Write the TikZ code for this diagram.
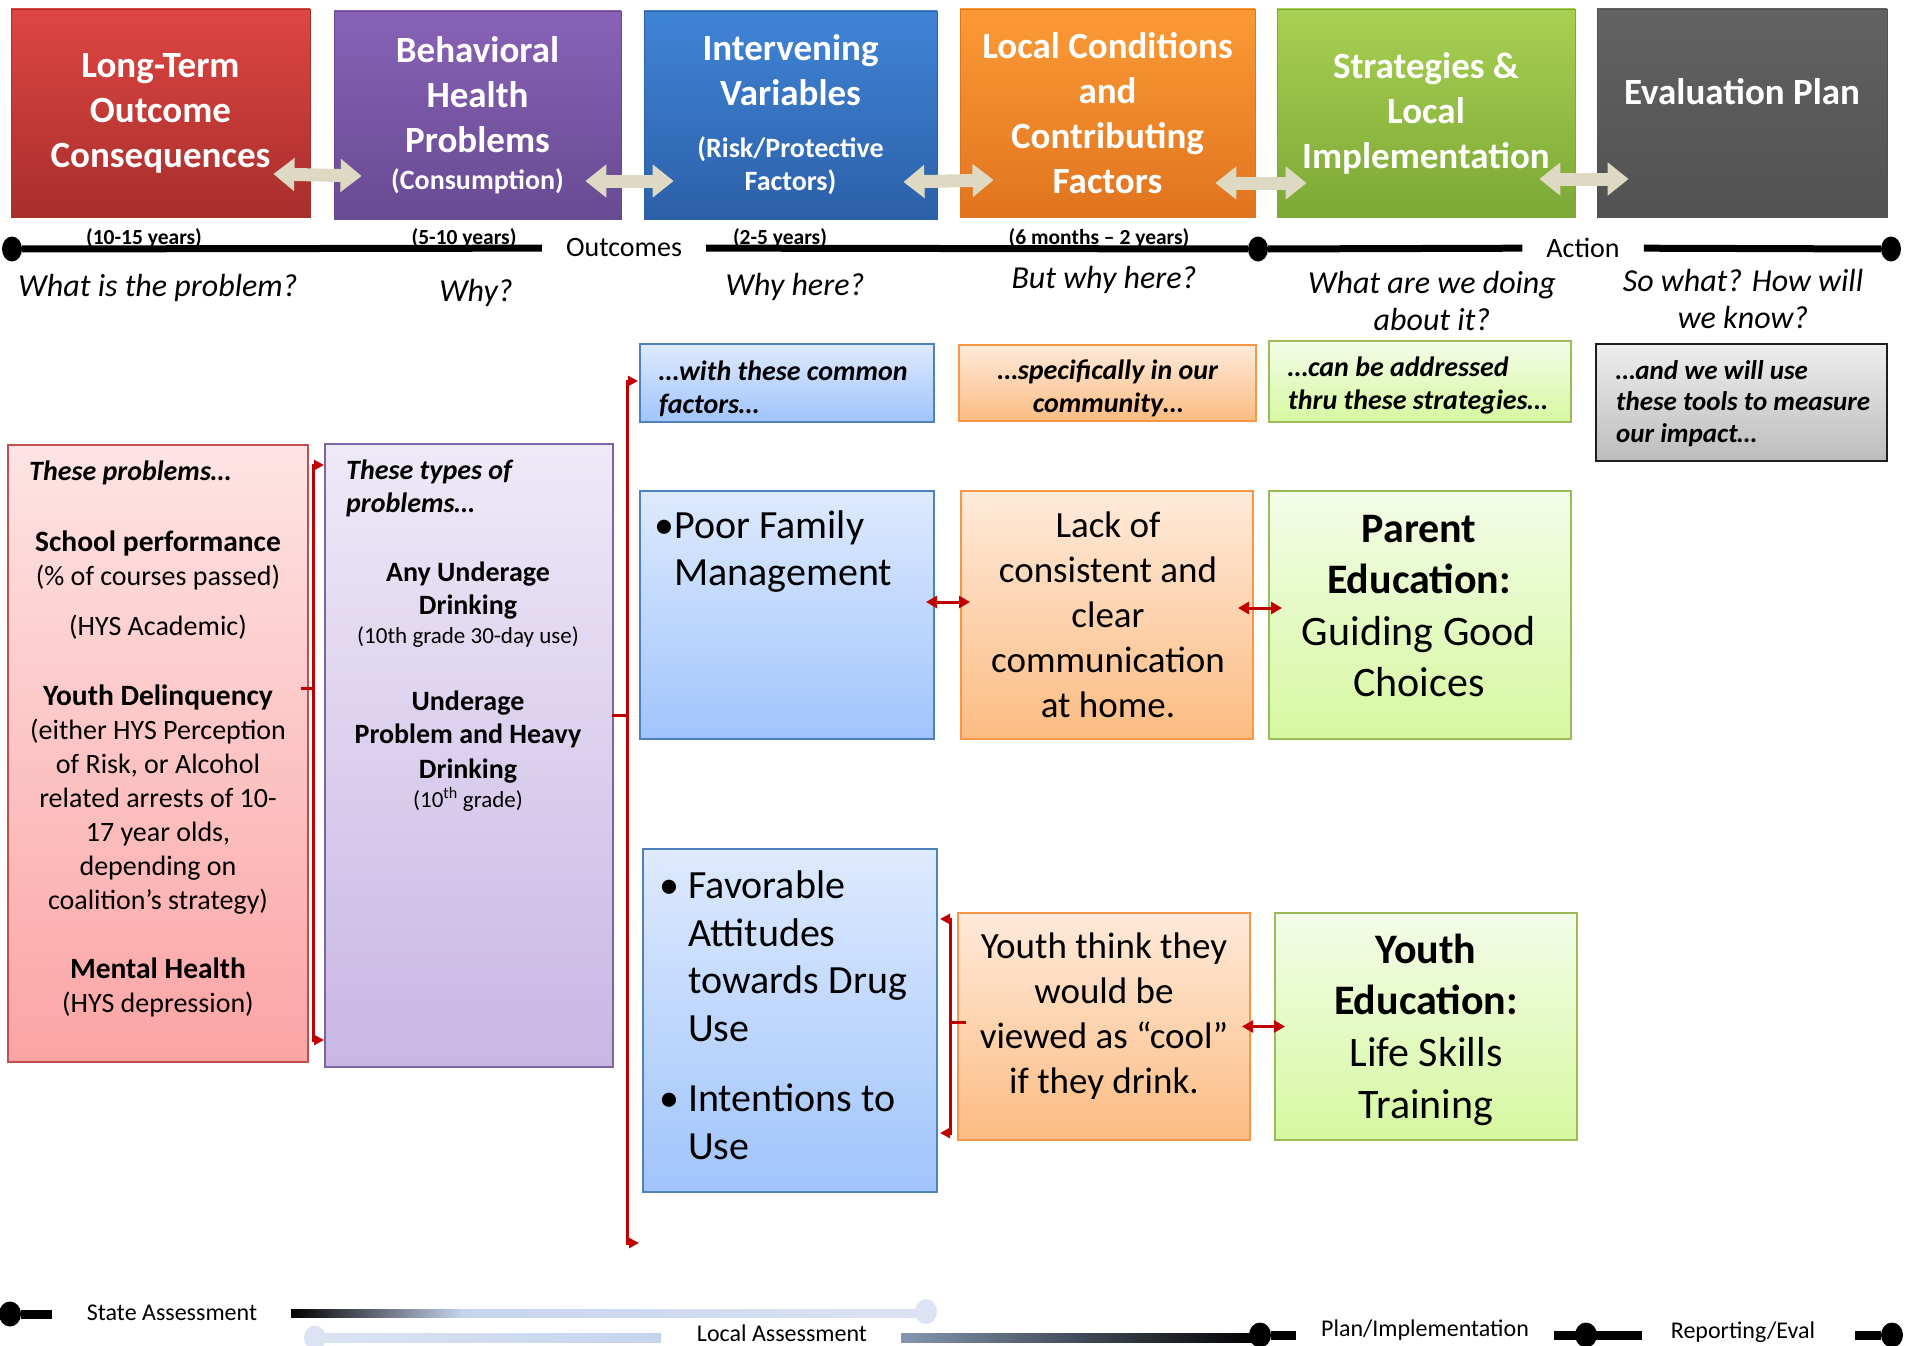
\documentclass[tikz,border=0pt]{standalone}
\usepackage{fontspec}
\setmainfont{Carlito}
\usetikzlibrary{arrows.meta,shapes.geometric}

\newcommand{\setfs}[2]{\fontsize{#1}{#2}\selectfont}

% header colours
\definecolor{hdrRedT}{RGB}{222,70,66}
\definecolor{hdrRedB}{RGB}{168,46,44}
\definecolor{hdrPurT}{RGB}{136,98,182}
\definecolor{hdrPurB}{RGB}{104,74,146}
\definecolor{hdrBluT}{RGB}{64,132,214}
\definecolor{hdrBluB}{RGB}{44,96,168}
\definecolor{hdrOraT}{RGB}{252,154,54}
\definecolor{hdrOraB}{RGB}{224,116,30}
\definecolor{hdrGrnT}{RGB}{168,208,82}
\definecolor{hdrGrnB}{RGB}{124,168,54}
\definecolor{hdrGryT}{RGB}{98,98,98}
\definecolor{hdrGryB}{RGB}{82,82,82}
\definecolor{beigeArrow}{RGB}{221,217,195}
\definecolor{darkRed}{RGB}{192,0,0}
% light box colours
\definecolor{pinkT}{RGB}{253,228,228}
\definecolor{pinkB}{RGB}{252,164,164}
\definecolor{pinkD}{RGB}{192,80,77}
\definecolor{lilacT}{RGB}{238,233,247}
\definecolor{lilacB}{RGB}{200,182,228}
\definecolor{lilacD}{RGB}{128,100,162}
\definecolor{skyT}{RGB}{222,234,253}
\definecolor{skyB}{RGB}{160,196,252}
\definecolor{skyD}{RGB}{79,129,189}
\definecolor{peachT}{RGB}{254,234,218}
\definecolor{peachB}{RGB}{252,188,130}
\definecolor{peachD}{RGB}{247,150,70}
\definecolor{limeT}{RGB}{243,252,232}
\definecolor{limeB}{RGB}{214,248,160}
\definecolor{limeD}{RGB}{155,187,89}
\definecolor{greyT}{RGB}{238,238,238}
\definecolor{greyB}{RGB}{188,188,188}
\definecolor{greyD}{RGB}{30,30,30}
% legend colours
\definecolor{lgBlue}{RGB}{197,211,237}
\definecolor{lgLight}{RGB}{220,228,243}
\definecolor{lgSteel}{RGB}{132,150,176}

\tikzset{
  hdrbox/.style n args={3}{rectangle, inner sep=0pt, minimum height=208pt, minimum width=#3,
    top color=#1, bottom color=#2, draw=#2, line width=0.8pt, text=white, align=center,
    font=\setfs{37}{45}\bfseries},
  litebox/.style n args={3}{rectangle, inner sep=0pt, top color=#1, bottom color=#2, draw=#3, line width=2pt},
  hdrarrow/.style={draw=beigeArrow, line width=13pt,
    {Triangle[length=21pt,width=32pt]}-{Triangle[length=21pt,width=32pt]}},
  redline/.style={draw=darkRed, line width=3pt},
  redtip/.style={-{Triangle[length=10pt,width=10pt]}},
  reddbl/.style={{Triangle[length=11pt,width=12pt]}-{Triangle[length=11pt,width=12pt]}},
  tdot/.style={ellipse, fill=black, inner sep=0pt, minimum width=20pt, minimum height=25pt},
  tline/.style={draw=black, line width=7pt},
  tword/.style={inner xsep=24pt, inner ysep=0pt, font=\setfs{28}{33}},
  years/.style={inner sep=0pt, font=\setfs{21.5}{25}\bfseries},
  ask/.style={inner sep=0pt, align=center, font=\setfs{32}{37}\itshape},
  lead/.style={inner sep=0pt, font=\setfs{28}{33}\bfseries\itshape},
  ldot/.style={ellipse, fill=#1, inner sep=0pt, minimum width=22pt, minimum height=25pt},
  lstub/.style={draw=black, line width=9pt},
  lword/.style={inner sep=0pt, font=\setfs{24}{28}},
}

\begin{document}
\begin{tikzpicture}[x=1pt,y=-1pt]
\useasboundingbox (0,0) rectangle (1906,1346);

%Shape: header boxes
\node[hdrbox={hdrRedT}{hdrRedB}{299pt}] (hdrRed) at (160.5,113) {Long-Term\\Outcome\\Consequences};
\node[hdrbox={hdrPurT}{hdrPurB}{287pt}] (hdrPur) at (477.5,115) {Behavioral\\Health\\Problems\\[-8pt]{\setfs{28}{34}(Consumption)}};
\node[hdrbox={hdrBluT}{hdrBluB}{293pt}] (hdrBlu) at (790.5,115) {Intervening\\Variables\\[7pt]{\setfs{28}{33}(Risk/Protective}\\[-12pt]{\setfs{28}{33}Factors)}};
\node[hdrbox={hdrOraT}{hdrOraB}{295pt}] (hdrOra) at (1107.5,113) {Local Conditions\\and\\Contributing\\Factors};
\node[hdrbox={hdrGrnT}{hdrGrnB}{298pt}] (hdrGrn) at (1426,113) {Strategies \&\\Local\\Implementation};
\node[hdrbox={hdrGryT}{hdrGryB}{290pt}] (hdrGry) at (1742,113) {};
% Text Node
\node[text=white, inner sep=0pt, font=\setfs{37}{45}\bfseries] (hdrGryText) at ([yshift=21pt]hdrGry.center) {Evaluation Plan};

%Shape: header double arrows
\draw[hdrarrow] ([xshift=-37pt,yshift=-61pt]hdrRed.east) -- ([xshift=28pt,yshift=-61pt]hdrPur.west);
\draw[hdrarrow] ([xshift=-36pt,yshift=-66pt]hdrPur.east) -- ([xshift=30pt,yshift=-66pt]hdrBlu.west);
\draw[hdrarrow] ([xshift=-34pt,yshift=-67pt]hdrBlu.east) -- ([xshift=34pt,yshift=-67pt]hdrOra.west);
\draw[hdrarrow] ([xshift=-40pt,yshift=-70pt]hdrOra.east) -- ([xshift=30pt,yshift=-70pt]hdrGrn.west);
\draw[hdrarrow] ([xshift=-36pt,yshift=-66pt]hdrGrn.east) -- ([xshift=32pt,yshift=-66pt]hdrGry.west);

%Shape: timeline
\node[tdot] (tl0) at (12,249) {};
\node[tword] (tlOut) at (624,248) {Outcomes};
\node[tdot] (tl1) at (1258,249) {};
\node[tword] (tlAct) at (1583,248) {Action};
\node[tdot] (tl2) at (1891,249) {};
\draw[tline] (tl0) -- (tlOut);
\draw[tline] (tlOut) -- (tl1);
\draw[tline] (tl1) -- (tlAct);
\draw[tline] (tlAct) -- (tl2);

% Text Node
\node[years] (yr1) at (144,238) {(10-15 years)};
\node[years] (yr2) at (464,238) {(5-10 years)};
\node[years] (yr3) at (780,238) {(2-5 years)};
\node[years] (yr4) at (1099,238) {(6 months – 2 years)};

% Text Node
\node[ask] (q1) at (158,288) {What is the problem?};
\node[ask] (q2) at (476,293) {Why?};
\node[ask] (q3) at (795,287) {Why here?};
\node[ask] (q4) at (1104,280) {But why here?};
\node[ask] (q5) at (1432,301.5) {What are we doing\\about it?};
\node[ask] (q6) at (1743,298.5) {So what? How will\\we know?};

%Shape: lead-in boxes
\node[litebox={skyT}{skyB}{skyD}, minimum width=294pt, minimum height=78pt] (lblFact) at (787,383) {};
\node[litebox={peachT}{peachB}{peachD}, minimum width=297pt, minimum height=76pt] (lblComm) at (1107.5,383) {};
\node[litebox={limeT}{limeB}{limeD}, minimum width=302pt, minimum height=81pt] (lblStrat) at (1420,381.5) {};
\node[litebox={greyT}{greyB}{greyD}, minimum width=291pt, minimum height=117pt] (lblTools) at (1741.5,402.5) {};
% Text Node
\node[lead, anchor=west, align=left] (lblFactText) at (659,388.5) {…with these common\\factors…};
\node[lead, align=center] (lblCommText) at (1108,388.5) {…specifically in our\\community…};
\node[lead, anchor=west, align=left] (lblStratText) at (1288,386) {…can be addressed\\thru these strategies…};
\node[lead, anchor=west, align=left, font=\setfs{27}{31.5}\bfseries\itshape] (lblToolsText) at (1616,403.5) {…and we will use\\these tools to measure\\our impact…};

%Shape: problem boxes
\node[litebox={pinkT}{pinkB}{pinkD}, minimum width=300pt, minimum height=617pt] (probBox) at (158,753.5) {};
\node[litebox={lilacT}{lilacB}{lilacD}, minimum width=288pt, minimum height=623pt] (typeBox) at (469,755.5) {};
% Text Node
\node[lead, anchor=west] (probHead) at (29,473) {These problems…};
\node[inner sep=0pt, align=center, font=\setfs{28}{34}] (probText) at (158,774) {{\setfs{29.5}{34}\bfseries School performance}\\
(\% of courses passed)\\[16pt]
(HYS Academic)\\[36pt]
{\setfs{29.5}{34}\bfseries Youth Delinquency}\\
(either HYS Perception\\
of Risk, or Alcohol\\
related arrests of 10-\\
17 year olds,\\
depending on\\
coalition’s strategy)\\[35pt]
{\setfs{29.5}{34}\bfseries Mental Health}\\
(HYS depression)};
% Text Node
\node[lead, anchor=west, align=left] (typeHead) at (346,488.5) {These types of\\problems…};
\node[inner sep=0pt, align=center, font=\setfs{28}{33}\bfseries] (typeText) at (468,687) {Any Underage\\
Drinking\\[-4pt]
{\setfs{23}{26}\mdseries (10th grade 30-day use)}\\[34pt]
Underage\\
Problem and Heavy\\[2pt]
Drinking\\[-4pt]
{\setfs{23}{26}\mdseries (10\textsuperscript{th} grade)}};

%Shape: factor, condition and strategy boxes
\node[litebox={skyT}{skyB}{skyD}, minimum width=294pt, minimum height=248pt] (famBox) at (787,615) {};
\node[litebox={peachT}{peachB}{peachD}, minimum width=292pt, minimum height=248pt] (commBox) at (1107,615) {};
\node[litebox={limeT}{limeB}{limeD}, minimum width=302pt, minimum height=248pt] (parentBox) at (1420,615) {};
\node[litebox={skyT}{skyB}{skyD}, minimum width=294pt, minimum height=343pt] (attBox) at (790,1020.5) {};
\node[litebox={peachT}{peachB}{peachD}, minimum width=292pt, minimum height=227pt] (coolBox) at (1104,1026.5) {};
\node[litebox={limeT}{limeB}{limeD}, minimum width=302pt, minimum height=227pt] (lifeBox) at (1426,1026.5) {};
% Text Node
\node[inner sep=0pt, anchor=west, align=left, font=\setfs{40}{47}] (famText) at (674,552) {\llap{•}Poor Family\\Management};
\node[inner sep=0pt, align=center, font=\setfs{37}{45}] (commText) at (1108,615) {Lack of\\consistent and\\clear\\communication\\at home.};
\node[inner sep=0pt, align=center, font=\setfs{42}{51.5}] (parentText) at (1419,606) {{\bfseries Parent}\\{\bfseries Education:}\\Guiding Good\\Choices};
\node[inner sep=0pt, anchor=west, align=left, font=\setfs{40}{47.8}] (attText) at (688,1015) {\llap{•\hspace{9pt}}Favorable\\Attitudes\\towards Drug\\Use\\[22pt]\llap{•\hspace{9pt}}Intentions to\\Use};
\node[inner sep=0pt, align=center, font=\setfs{37}{45}] (coolText) at (1104,1016.5) {Youth think they\\would be\\viewed as “cool”\\if they drink.};
\node[inner sep=0pt, align=center, font=\setfs{42}{51.7}] (lifeText) at (1426,1029.5) {{\bfseries Youth}\\{\bfseries Education:}\\Life Skills\\Training};

%Straight Lines: red brackets
\coordinate (brL) at (313,688);
\draw[redline] ([xshift=-8pt,yshift=65.5pt]probBox.east) -- (brL);
\draw[redline,redtip] (brL) |- ([yshift=290.5pt]typeBox.west);
\draw[redline,redtip] (brL) |- ([yshift=-284.5pt]typeBox.west);
\coordinate (brM) at (627,715);
\coordinate (brEnd) at (639,1243);
\draw[redline] ([xshift=-2pt,yshift=40.5pt]typeBox.east) -- (brM);
\draw[redline,redtip] (brM) |- ([xshift=-1pt,yshift=2pt]lblFact.west);
\draw[redline,redtip] (brM) |- (brEnd);
\coordinate (brC) at (950,1022);
\draw[redline] ([xshift=9pt,yshift=4.5pt]coolBox.west) -- (brC);
\draw[redline,redtip] (brC) |- ([xshift=2pt,yshift=101.5pt]attBox.east);
\draw[redline,redtip] (brC) |- ([xshift=2pt,yshift=-112.5pt]attBox.east);
%Straight Lines: red double arrows
\draw[redline,reddbl] ([xshift=-9pt,yshift=13pt]famBox.east) -- ([xshift=10pt,yshift=13pt]commBox.west);
\draw[redline,reddbl] ([xshift=-16pt,yshift=7pt]commBox.east) -- ([xshift=14pt,yshift=7pt]parentBox.west);
\draw[redline,reddbl] ([xshift=-9pt]coolBox.east) -- ([xshift=11pt]lifeBox.west);

%Shape: legend
\node[ldot=black] (lg0) at (10,1314) {};
\coordinate (lg0e) at (52,1314);
\draw[lstub] (lg0) -- (lg0e);
\node[lword] (lgState) at (172,1313) {State Assessment};
\shade[left color=black, right color=lgBlue] (291,1309) rectangle (462,1317);
\shade[left color=lgBlue, right color=lgLight] (460,1309) rectangle (926,1317);
\node[ldot=lgLight] (lgStateEnd) at (926,1311.5) {};
\node[ldot=lgLight] (lgLocalStart) at (315,1338) {};
\shade[left color=lgLight, right color=lgBlue] (315,1333) rectangle (661,1342);
\node[lword] (lgLocal) at (782,1333) {Local Assessment};
\shade[left color=lgSteel, right color=black] (901,1333) rectangle (1258,1342);
\node[ldot=black] (lg1) at (1260,1335) {};
\coordinate (lg1e) at (1296,1335);
\draw[lstub] (lg1) -- (lg1e);
\node[lword] (lgPlan) at (1425,1330) {Plan/Implementation};
\coordinate (lg2a) at (1554,1335);
\coordinate (lg2b) at (1642,1335);
\draw[lstub] (lg2a) -- (lg2b);
\node[ldot=black] (lg2) at (1586,1335) {};
\node[lword] (lgReport) at (1743,1332) {Reporting/Eval};
\coordinate (lg3a) at (1855,1335);
\node[ldot=black] (lg3) at (1892,1335) {};
\draw[lstub] (lg3a) -- (lg3);

\end{tikzpicture}
\end{document}
